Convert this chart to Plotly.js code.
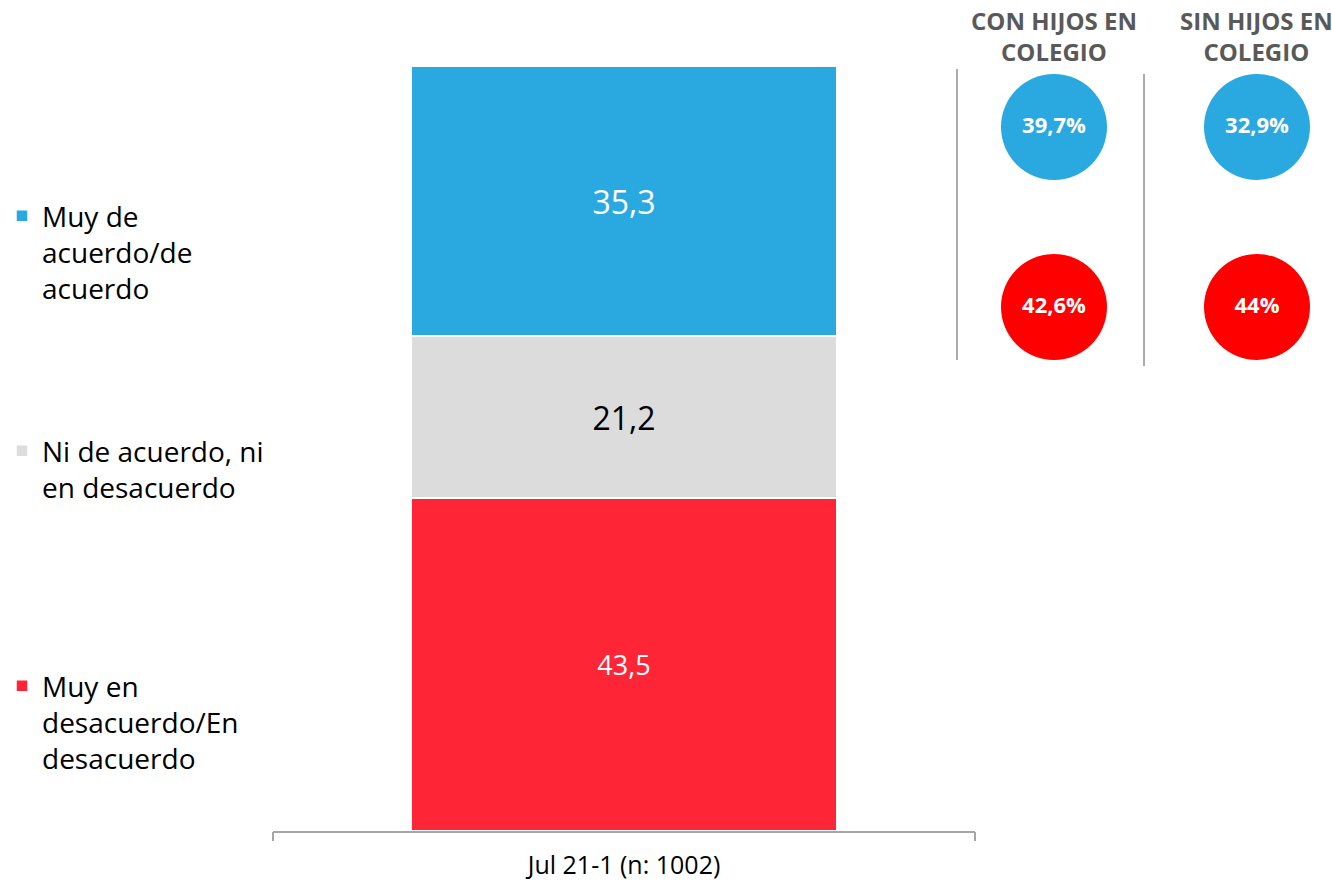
<!DOCTYPE html>
<html>
<head>
<meta charset="utf-8">
<script src="https://cdn.plot.ly/plotly-3.0.1.min.js"></script>
<style>html,body{margin:0;padding:0;background:#fff;}#chart{width:1332px;height:884px;}</style>
</head>
<body>
<div id="chart"></div>
<script>
// ---- data ----
const period = ["Jul 21-1 (n: 1002)"];
const seriesNames = ["Muy en<br>desacuerdo/En<br>desacuerdo", "Ni de acuerdo, ni<br>en desacuerdo", "Muy de<br>acuerdo/de<br>acuerdo"];
const disagree = [43.5];
const neutral = [21.2];
const agree = [35.3];

const groups = ["CON HIJOS EN<br>COLEGIO", "SIN HIJOS EN<br>COLEGIO"];
const rowLabels = ["De acuerdo", "En desacuerdo"];
const groupAgree = [39.7, 32.9];
const groupDisagree = [42.6, 44];

// ---- styles ----
const FONT = "Open Sans, Noto Sans, sans-serif";
const cBlue = "#2AA9E1", cGray = "#DCDCDC", cRed = "#FE2536";
const cCircleBlue = "#2AA9E1", cCircleRed = "#FF0000";
const W = 1332, H = 884;
const px = x => x / W, py = y => 1 - y / H;

function barTrace(name, vals, color, txtColor, txtSize, legendId) {
  return {
    type: "bar", x: period, y: vals, name: name,
    marker: {color: color, line: {color: "#ffffff", width: 1.5}},
    width: 0.607,
    texttemplate: "%{y:.1f}", textposition: "inside", insidetextanchor: "middle",
    textangle: 0, constraintext: "none",
    insidetextfont: {family: FONT, color: txtColor, size: txtSize},
    hoverinfo: "skip", legend: legendId, xaxis: "x", yaxis: "y"
  };
}

const fmt = v => String(v).replace(".", ",") + "%";
const cx = [], cy = [], ct = [], cc = [];
groups.forEach((g, i) => {
  cx.push(g); cy.push(rowLabels[0]); ct.push(fmt(groupAgree[i])); cc.push(cCircleBlue);
  cx.push(g); cy.push(rowLabels[1]); ct.push(fmt(groupDisagree[i])); cc.push(cCircleRed);
});

const data = [
  barTrace(seriesNames[0], disagree, cRed, "#ffffff", 27, "legend3"),
  barTrace(seriesNames[1], neutral, cGray, "#000000", 32, "legend2"),
  barTrace(seriesNames[2], agree, cBlue, "#ffffff", 32, "legend"),
  {
    type: "scatter", mode: "markers+text", x: cx, y: cy, text: ct,
    textposition: "middle center",
    textfont: {family: FONT, color: "#ffffff", size: 22, weight: "bold"},
    marker: {size: 106, color: cc, line: {width: 0}},
    xaxis: "x2", yaxis: "y2", showlegend: false, hoverinfo: "skip", cliponaxis: false
  }
];

const legendBase = {
  x: px(2), xanchor: "left", yanchor: "top", valign: "top",
  font: {family: FONT, size: 28, color: "#000000"},
  bgcolor: "rgba(0,0,0,0)", borderwidth: 0, itemclick: false, itemdoubleclick: false
};

const layout = {
  width: W, height: H,
  margin: {l: 0, r: 0, t: 0, b: 0},
  paper_bgcolor: "#ffffff", plot_bgcolor: "rgba(0,0,0,0)",
  separators: ",.",
  barmode: "stack",
  font: {family: FONT},
  showlegend: true,
  legend: Object.assign({}, legendBase, {y: py(191)}),
  legend2: Object.assign({}, legendBase, {y: py(426)}),
  legend3: Object.assign({}, legendBase, {y: py(661)}),
  xaxis: {
    domain: [px(273), px(975)], anchor: "y", type: "category",
    range: [-0.5, 0.5],
    showline: true, linecolor: "#A6A6A6", linewidth: 1.5,
    ticks: "",
    tickfont: {family: FONT, size: 25, color: "#000000"},
    ticklabelstandoff: 11,
    showgrid: false, zeroline: false, fixedrange: true
  },
  xaxis3: {
    domain: [px(273), px(975)], anchor: "y", overlaying: "x", type: "linear",
    range: [-0.5, 0.5], tickmode: "array", tickvals: [-0.5, 0.5], ticktext: ["", ""],
    ticks: "outside", ticklen: 9, tickcolor: "#A6A6A6", tickwidth: 1.5,
    showline: false, showgrid: false, zeroline: false, fixedrange: true
  },
  yaxis: {
    domain: [1 - 831 / H, 1 - 66 / H], anchor: "x",
    range: [0, 100], visible: false, showgrid: false, zeroline: false, fixedrange: true
  },
  xaxis2: {
    domain: [px(976), 1], anchor: "y2", type: "category",
    categoryorder: "array", categoryarray: groups,
    range: [-0.3842, 1.3695], visible: false, fixedrange: true
  },
  yaxis2: {
    domain: [0, 1], anchor: "x2", type: "category",
    categoryorder: "array", categoryarray: rowLabels,
    range: [4.2056, -0.7056], visible: false, fixedrange: true
  },
  shapes: [
    {type: "line", xref: "paper", yref: "paper", x0: px(957), x1: px(957), y0: py(69), y1: py(360),
     line: {color: "#595959", width: 1}},
    {type: "line", xref: "paper", yref: "paper", x0: px(1144), x1: px(1144), y0: py(74), y1: py(366),
     line: {color: "#595959", width: 1}}
  ],
  annotations: groups.map((g, i) => ({
    xref: "x2", yref: "paper", x: i, y: py(2), yanchor: "top", xanchor: "center",
    text: "<b>" + g + "</b>", showarrow: false, align: "center",
    font: {family: FONT, size: 24, color: "#595959"}
  }))
};

// invisible helper trace so the tick-mark overlay axis is drawn
data.push({type: "scatter", x: [0], y: [0], xaxis: "x3", yaxis: "y", mode: "markers",
  marker: {opacity: 0}, showlegend: false, hoverinfo: "skip"});

Plotly.newPlot("chart", data, layout, {displayModeBar: false, staticPlot: true});
</script>
</body>
</html>
